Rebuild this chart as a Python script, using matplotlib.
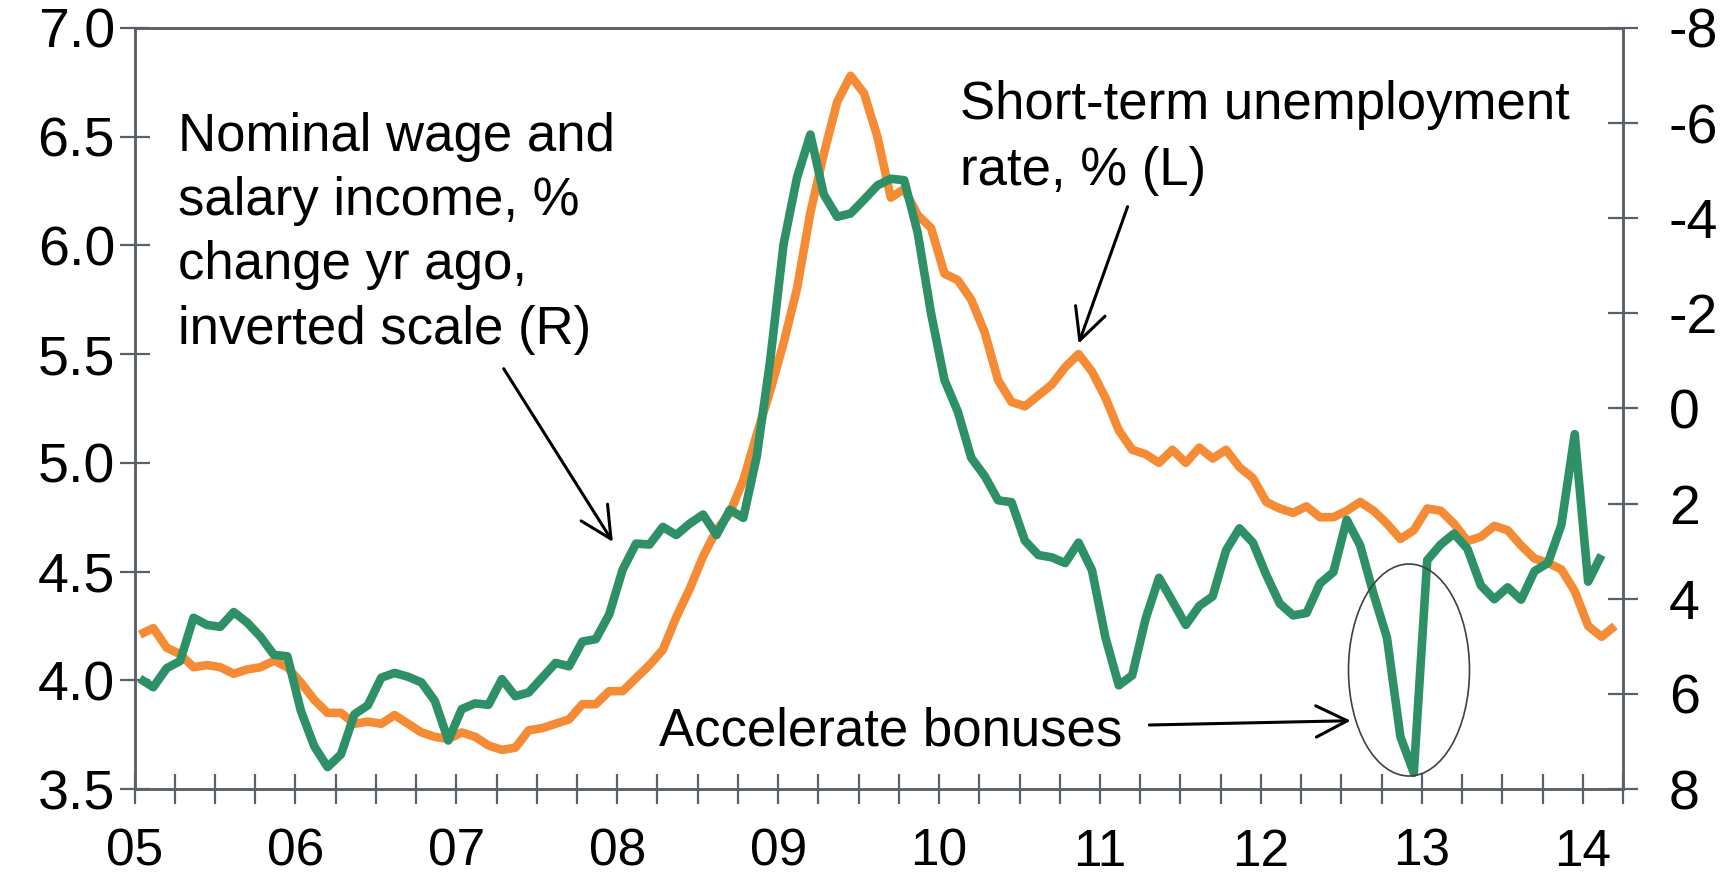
import numpy as np
import matplotlib
matplotlib.use("Agg")
import matplotlib.pyplot as plt
from matplotlib.patches import Ellipse
from matplotlib.transforms import ScaledTranslation

plt.rcParams['font.family'] = ['Liberation Sans', 'DejaVu Sans']
plt.rcParams['axes.unicode_minus'] = False

# monthly data, Jan 2005 onwards
# short-term unemployment rate, % (left axis)
unemp = [4.21, 4.24, 4.15, 4.12, 4.06, 4.07, 4.06, 4.03, 4.05, 4.06, 4.09, 4.06,
         3.99, 3.91, 3.85, 3.85, 3.80, 3.81, 3.80, 3.84, 3.80, 3.76, 3.74, 3.73,
         3.76, 3.74, 3.70, 3.68, 3.69, 3.77, 3.78, 3.80, 3.82, 3.89, 3.89, 3.95,
         3.95, 4.01, 4.07, 4.14, 4.29, 4.42, 4.57, 4.69, 4.77, 4.92, 5.13, 5.33,
         5.55, 5.80, 6.15, 6.42, 6.66, 6.78, 6.70, 6.50, 6.22, 6.26, 6.14, 6.08,
         5.87, 5.84, 5.75, 5.60, 5.38, 5.28, 5.26, 5.31, 5.36, 5.44, 5.50, 5.42,
         5.30, 5.15, 5.06, 5.04, 5.00, 5.06, 5.00, 5.07, 5.02, 5.06, 4.98, 4.93,
         4.82, 4.79, 4.77, 4.80, 4.75, 4.75, 4.78, 4.82, 4.78, 4.72, 4.65, 4.69,
         4.79, 4.78, 4.72, 4.64, 4.66, 4.71, 4.69, 4.62, 4.56, 4.54, 4.51, 4.41,
         4.25, 4.20, 4.25]

# nominal wage and salary income, % change yr ago (right axis, inverted)
wages = [5.68, 5.86, 5.46, 5.31, 4.40, 4.55, 4.59, 4.28, 4.50, 4.80, 5.18, 5.21,
         6.35, 7.10, 7.54, 7.27, 6.43, 6.24, 5.66, 5.56, 5.64, 5.76, 6.15, 6.98,
         6.32, 6.20, 6.23, 5.69, 6.05, 5.97, 5.66, 5.35, 5.42, 4.90, 4.85, 4.33,
         3.39, 2.84, 2.86, 2.49, 2.66, 2.42, 2.23, 2.66, 2.13, 2.30, 1.01, -1.00,
         -3.45, -4.85, -5.76, -4.50, -4.03, -4.10, -4.39, -4.69, -4.83, -4.80, -3.70, -2.00,
         -0.60, 0.07, 1.04, 1.42, 1.93, 1.97, 2.78, 3.08, 3.13, 3.25, 2.82, 3.40,
         4.81, 5.82, 5.61, 4.42, 3.56, 4.05, 4.55, 4.15, 3.95, 2.98, 2.52, 2.82,
         3.50, 4.10, 4.35, 4.30, 3.68, 3.44, 2.34, 2.88, 3.90, 4.82, 6.90, 7.66,
         3.19, 2.86, 2.63, 2.95, 3.72, 4.01, 3.76, 4.02, 3.42, 3.25, 2.45, 0.54,
         3.64, 3.08]

year_labels = ['05', '06', '07', '08', '09', '10', '11', '12', '13', '14']

orange = '#F58B35'
green = '#2E9066'
grey = '#596068'

W, H = 1733, 875
fig = plt.figure(figsize=(W / 100, H / 100), dpi=100)
ax = fig.add_axes([134.5 / W, 1 - 789 / H, 1488.5 / W, 761 / H])
ax2 = ax.twinx()

# points sit mid-month
x_u = np.arange(len(unemp)) + 0.4
x_w = np.arange(len(wages)) + 0.4
ax.plot(x_u, unemp, color=orange, lw=6.2, solid_joinstyle='round', solid_capstyle='butt')
ax2.plot(x_w, wages, color=green, lw=6.2, solid_joinstyle='round', solid_capstyle='butt')

ax.set_xlim(0, 111)
ax.set_ylim(3.5, 7.0)
ax2.set_ylim(8, -8)

ax.set_yticks(np.arange(3.5, 7.01, 0.5))
ax.set_yticklabels(['%.1f' % v for v in np.arange(3.5, 7.01, 0.5)])
ax2.set_yticks(np.arange(-8, 9, 2))
ax2.set_yticklabels([str(v) for v in range(-8, 9, 2)])

xt = np.arange(0, 112, 3)
ax.set_xticks(xt)
ax.set_xticklabels([year_labels[t // 12] if t % 12 == 0 else '' for t in xt])
shift = ScaledTranslation(6 / 100, 0, fig.dpi_scale_trans)
for lab in ax.get_xticklabels():
    lab.set_transform(lab.get_transform() + shift)

for a in (ax, ax2):
    for s in a.spines.values():
        s.set_color(grey)
        s.set_linewidth(1.8)
    a.tick_params(direction='inout', length=22, width=1.6, color=grey,
                  labelsize=40, labelcolor='black')
ax.tick_params(axis='x', pad=17, labelsize=37)
ax.tick_params(axis='y', pad=3)
ax2.tick_params(axis='y', pad=22)


def fx(x):
    return x / W


def fy(y):
    return 1 - y / H


# annotations
lines1 = ['Nominal wage and', 'salary income, %', 'change yr ago,', 'inverted scale (R)']
for k, s in enumerate(lines1):
    fig.text(fx(178), fy(151 + 64.2 * k), s, fontsize=38, va='baseline', ha='left')
lines2 = ['Short-term unemployment', 'rate, % (L)']
for k, s in enumerate(lines2):
    fig.text(fx(960), fy(118.5 + 66 * k), s, fontsize=38, va='baseline', ha='left')
fig.text(fx(659), fy(746), 'Accelerate bonuses', fontsize=38, va='baseline', ha='left')

arrows = [((503.7, 368.7), (612.8, 541.9)),
          ((1127.6, 206.7), (1078.6, 343.6)),
          ((1149.4, 725.0), (1350.7, 720.7))]
for (x0, y0), (x1, y1) in arrows:
    ax2.annotate('', xy=(x1, H - y1), xytext=(x0, H - y0),
                 xycoords='figure pixels', textcoords='figure pixels',
                 arrowprops=dict(arrowstyle='->,head_length=0.9,head_width=0.45',
                                 color='black', lw=2.2, mutation_scale=25,
                                 shrinkA=0, shrinkB=0))

ell = Ellipse(((1409 - 134.5) / 1488.5, 1 - (670 - 28) / 761), 121 / 1488.5, 212 / 761,
              transform=ax2.transAxes, fill=False, edgecolor='#404040', lw=1.2, zorder=5)
ax2.add_patch(ell)

fig.savefig('out.png', dpi=100)
